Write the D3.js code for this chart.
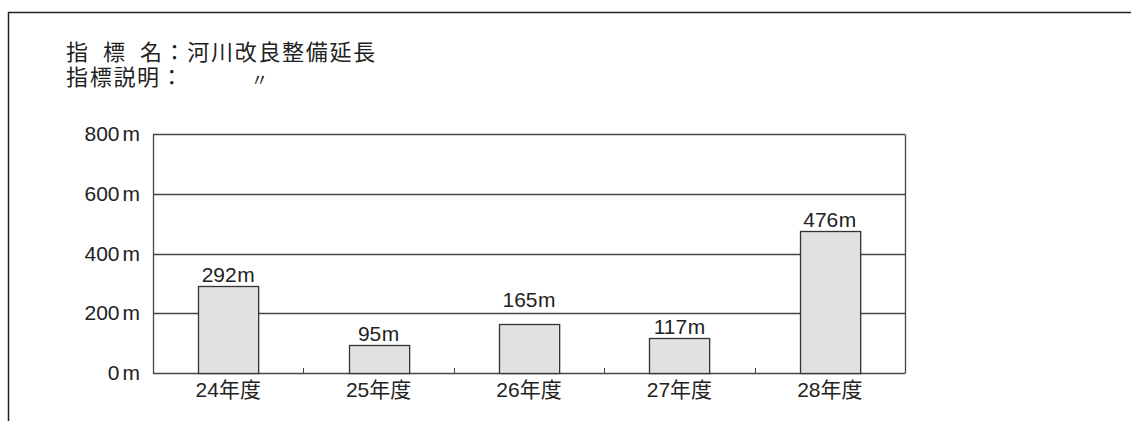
<!DOCTYPE html>
<html>
<head>
<meta charset="utf-8">
<script src="https://cdn.jsdelivr.net/npm/d3@7"></script>
<style>
  body { margin: 0; background: #fff; }
  text { font-family: "Liberation Sans", "Noto Sans CJK JP", sans-serif; fill: #222; }
  .title { font-family: "Noto Sans CJK JP", sans-serif; }
</style>
</head>
<body>
<div id="chart"></div>
<script>
var width = 1131;
var height = 421;

var titleLines = ["指\u00a0\u00a0標\u00a0\u00a0名：河川改良整備延長", "指標説明："];
var categories = ["24年度", "25年度", "26年度", "27年度", "28年度"];
var values = [292, 95, 165, 117, 476];
var yTicks = [0, 200, 400, 600, 800];

var margin = { left: 153, right: 226, top: 134, bottom: 48 };
var fontFamily = "'Liberation Sans', 'Noto Sans CJK JP', sans-serif";

var svg = d3.select("#chart").append("svg")
  .attr("width", width)
  .attr("height", height);

// outer frame (top and left)
svg.append("path")
  .attr("d", "M8.5," + height + "V12.5H" + width)
  .attr("fill", "none")
  .attr("stroke", "#222")
  .attr("stroke-width", 1.5);

// title block
var title = svg.append("text").attr("class", "title")
  .attr("font-size", 22).attr("letter-spacing", 1.7);
title.selectAll("tspan")
  .data(titleLines)
  .enter().append("tspan")
  .attr("x", 66)
  .attr("y", function(d, i) { return 60 + i * 25; })
  .text(function(d) { return d; });
title.append("tspan")
  .attr("x", 251).attr("y", 86)
  .attr("font-size", 17).attr("letter-spacing", 0)
  .text("〃");

var x = d3.scaleBand()
  .domain(categories)
  .range([margin.left, width - margin.right])
  .paddingInner(0.6)
  .paddingOuter(0.3);

var y = d3.scaleLinear()
  .domain([0, 800])
  .range([height - margin.bottom, margin.top]);

var g = svg.append("g");

// gridlines
g.selectAll("line.grid")
  .data(yTicks)
  .enter().append("line")
  .attr("class", "grid")
  .attr("x1", margin.left)
  .attr("x2", width - margin.right)
  .attr("y1", function(d) { return Math.round(y(d)) + 0.5; })
  .attr("y2", function(d) { return Math.round(y(d)) + 0.5; })
  .attr("stroke", "#444")
  .attr("stroke-width", 1.3);

// plot border left/right
g.append("path")
  .attr("d", "M" + (margin.left + 0.5) + "," + (Math.round(y(0)) + 0.5) + "V" + (Math.round(y(800)) + 0.5) +
    "M" + (width - margin.right + 0.5) + "," + (Math.round(y(0)) + 0.5) + "V" + (Math.round(y(800)) + 0.5))
  .attr("fill", "none")
  .attr("stroke", "#444")
  .attr("stroke-width", 1.3);

// category separator ticks
var step = x.step();
g.selectAll("line.sep")
  .data(categories.slice(1))
  .enter().append("line")
  .attr("class", "sep")
  .attr("x1", function(d) { return Math.round(x(d) - step * 0.3) + 0.5; })
  .attr("x2", function(d) { return Math.round(x(d) - step * 0.3) + 0.5; })
  .attr("y1", y(0))
  .attr("y2", y(0) - 5)
  .attr("stroke", "#444");

// bars
g.selectAll("rect.bar")
  .data(values)
  .enter().append("rect")
  .attr("class", "bar")
  .attr("x", function(d, i) { return Math.round(x(categories[i])) + 0.5; })
  .attr("width", x.bandwidth())
  .attr("y", function(d) { return Math.round(y(d)) + 0.5; })
  .attr("height", function(d) { return Math.round(y(0)) - Math.round(y(d)); })
  .attr("fill", "#e1e1e1")
  .attr("stroke", "#333")
  .attr("stroke-width", 1.3);

// value labels: sit above the bar, hop over a gridline if they would cross it
function labelY(d) {
  var base = y(d) - 4;
  yTicks.forEach(function(t) {
    var gy = y(t);
    if (gy > base - 16 && gy < base + 2) base = gy - 6;
  });
  return base;
}

var vl = g.selectAll("text.val")
  .data(values)
  .enter().append("text")
  .attr("class", "val")
  .attr("x", function(d, i) { return x(categories[i]) + x.bandwidth() / 2; })
  .attr("y", labelY)
  .attr("text-anchor", "middle")
  .attr("font-size", 21);
vl.append("tspan").text(function(d) { return d; });
vl.append("tspan").attr("dx", 0.5).text("m");

// y axis labels
var yAxis = d3.axisLeft(y).tickValues(yTicks).tickSize(0).tickPadding(13)
  .tickFormat(function(d) { return d; });
svg.append("g")
  .attr("transform", "translate(" + margin.left + ",0)")
  .call(yAxis)
  .call(function(s) { s.select(".domain").remove(); })
  .selectAll("text")
  .attr("font-size", 21)
  .attr("font-family", fontFamily)
  .attr("fill", "#222")
  .each(function(d) {
    var t = d3.select(this).text("");
    t.append("tspan").text(d);
    t.append("tspan").attr("dx", 3).text("m");
  });

// x axis labels
var xAxis = d3.axisBottom(x).tickSize(0).tickPadding(9);
svg.append("g")
  .attr("transform", "translate(0," + y(0) + ")")
  .call(xAxis)
  .call(function(s) { s.select(".domain").remove(); })
  .selectAll("text")
  .attr("font-size", 21)
  .attr("font-family", fontFamily)
  .attr("fill", "#222");
</script>
</body>
</html>
